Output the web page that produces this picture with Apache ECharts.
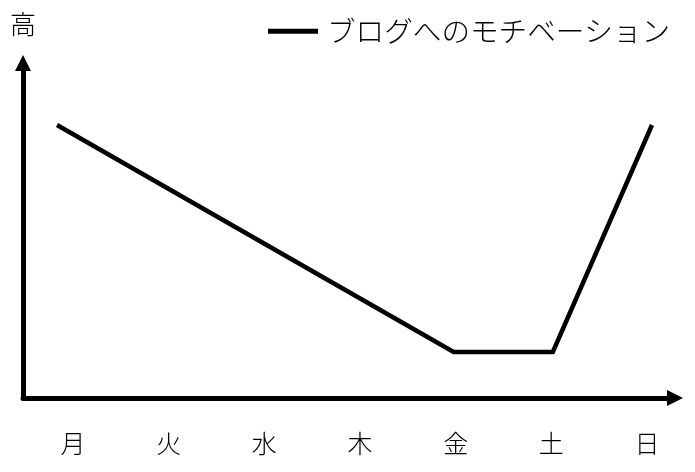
<!DOCTYPE html>
<html><head><meta charset="utf-8">
<script src="https://cdn.jsdelivr.net/npm/echarts@6/dist/echarts.min.js"></script>
<style>html,body{margin:0;padding:0;background:#fff}#c{width:695px;height:472px}</style>
</head><body><div id="c"></div>
<script>
const categories = ['月','火','水','木','金','土','日'];
const motivation = [5, 4, 3, 2, 1, 1, 5];
const seriesName = 'ブログへのモチベーション';
const yName = '高';

const FONT = '"Noto Sans CJK JP", sans-serif';
const chart = echarts.init(document.getElementById('c'));
chart.setOption({
  animation: false,
  backgroundColor: '#fff',
  textStyle: { fontFamily: FONT },
  legend: {
    left: 263, top: 12,
    icon: 'rect', itemWidth: 50, itemHeight: 5,
    textStyle: { fontSize: 28.6, color: '#000', fontWeight: 300, padding: [0,0,0,4], fontFamily: FONT },
    data: [seriesName]
  },
  grid: [
    { left: 23, right: 20, top: 63, bottom: 74 },
    { left: 73, right: 48, top: 63, bottom: 74 }
  ],
  xAxis: [
    { type: 'value', gridIndex: 0, min: -0.343, max: 6.232,
      axisLine: { show: true, onZero: false, lineStyle: { color: '#000', width: 5 }, symbol: ['none','triangle'], symbolSize: [16,16] },
      axisTick: { show: false }, axisLabel: { show: false }, splitLine: { show: false } },
    { type: 'category', gridIndex: 1, data: categories, boundaryGap: false,
      axisLine: { show: false }, axisTick: { show: false }, splitLine: { show: false },
      axisLabel: { color: '#000', fontSize: 25, margin: 33, fontWeight: 300, fontFamily: FONT } }
  ],
  yAxis: [
    { type: 'value', gridIndex: 0, min: 0.189, max: 6.093,
      name: yName, nameLocation: 'end', nameGap: 26,
      nameTextStyle: { color: '#000', fontSize: 26, fontWeight: 300, fontFamily: FONT, align: 'center' },
      axisLine: { show: true, onZero: false, lineStyle: { color: '#000', width: 5 }, symbol: ['none','triangle'], symbolSize: [16,16] },
      axisTick: { show: false }, axisLabel: { show: false }, splitLine: { show: false } },
    { type: 'value', gridIndex: 1, show: false }
  ],
  series: [{
    name: seriesName, type: 'line', xAxisIndex: 0, yAxisIndex: 0,
    data: categories.map((c, i) => [i, motivation[i]]),
    symbol: 'none', itemStyle: { color: '#000' },
    lineStyle: { color: '#000', width: 4.5, join: 'miter' }
  }]
});
</script></body></html>
